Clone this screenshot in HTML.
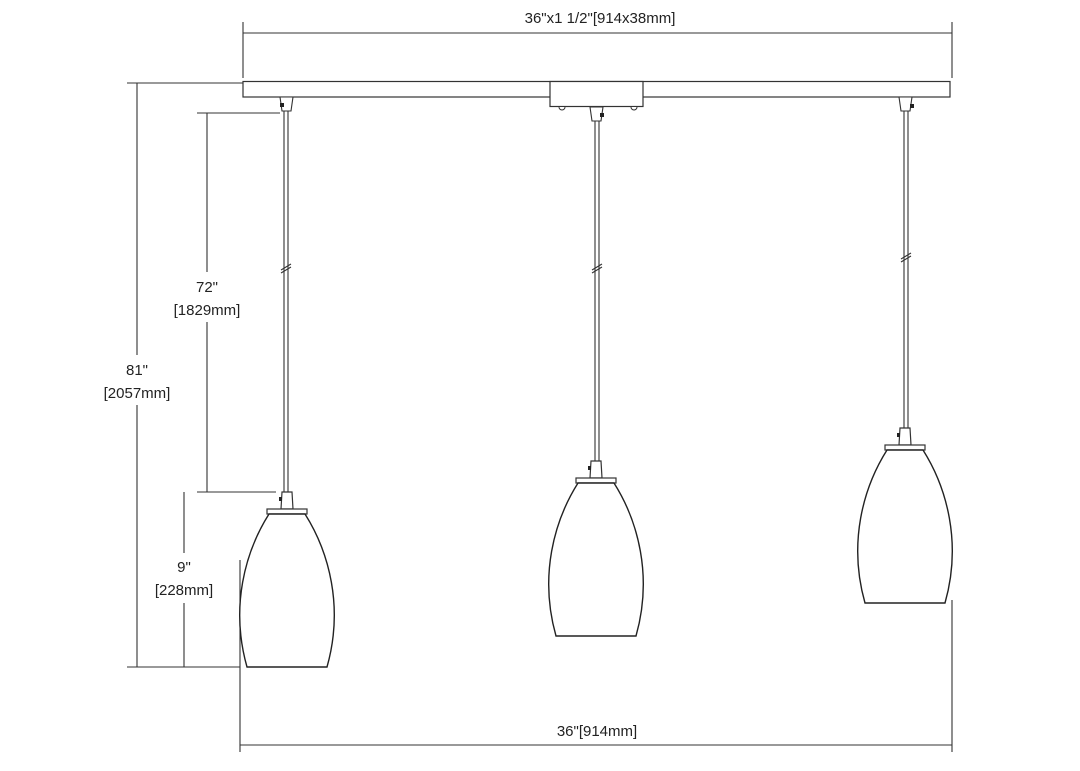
<!DOCTYPE html>
<html><head><meta charset="utf-8"><style>
html,body{margin:0;padding:0;background:#fff;}
svg{display:block;font-family:"Liberation Sans",sans-serif;}
text{font-size:15px;fill:#222;}
</style></head><body>
<svg width="1080" height="771" viewBox="0 0 1080 771" xmlns="http://www.w3.org/2000/svg">
<defs>
<g id="p">
  <path d="M-5,0 L5,0 L6,17 L-6,17 Z" fill="#fff" stroke="#333" stroke-width="1.2"/>
  <rect x="-8" y="5" width="3" height="4" fill="#222"/>
  <rect x="-20" y="17" width="40" height="5" fill="#fff" stroke="#333" stroke-width="1.2"/>
  <path d="M-18,22 C-42,60 -57,115 -40,175 L40,175 C57,115 42,60 18,22 Z" fill="#fff" stroke="#222" stroke-width="1.4"/>
</g>
</defs>
<g stroke="#333" stroke-width="1.1" fill="none">
  <line x1="243" y1="33" x2="952" y2="33"/>
  <line x1="243" y1="22" x2="243" y2="78"/>
  <line x1="952" y1="22" x2="952" y2="78"/>
  <line x1="240" y1="745" x2="952" y2="745"/>
  <line x1="240" y1="560" x2="240" y2="752"/>
  <line x1="952" y1="600" x2="952" y2="752"/>
  <line x1="137" y1="83" x2="137" y2="667"/>
  <line x1="127" y1="83" x2="243" y2="83"/>
  <line x1="127" y1="667" x2="240" y2="667"/>
  <line x1="207" y1="113" x2="207" y2="492"/>
  <line x1="197" y1="113" x2="280" y2="113"/>
  <line x1="197" y1="492" x2="276" y2="492"/>
  <line x1="184" y1="492" x2="184" y2="667"/>
  <line x1="174" y1="667" x2="240" y2="667"/>
  <line x1="284" y1="97" x2="284" y2="492"/><line x1="288" y1="97" x2="288" y2="492"/>
  <line x1="595" y1="107" x2="595" y2="461"/><line x1="599" y1="107" x2="599" y2="461"/>
  <line x1="904" y1="97" x2="904" y2="428"/><line x1="908" y1="97" x2="908" y2="428"/>
  <line x1="281" y1="270" x2="291" y2="264"/><line x1="281" y1="273" x2="291" y2="267"/>
  <line x1="592" y1="270" x2="602" y2="264"/><line x1="592" y1="273" x2="602" y2="267"/>
  <line x1="901" y1="259" x2="911" y2="253"/><line x1="901" y1="262" x2="911" y2="256"/>
</g>
<rect x="243" y="81.5" width="707" height="15.5" fill="#fff" stroke="#333" stroke-width="1.2"/>
<rect x="550" y="81.5" width="93" height="25" fill="#fff" stroke="#333" stroke-width="1.2"/>
<path d="M559,107 a3,3 0 0 0 6,0" fill="#fff" stroke="#333"/>
<path d="M631,107 a3,3 0 0 0 6,0" fill="#fff" stroke="#333"/>
<g stroke="#333" stroke-width="1.1" fill="#fff">
  <path d="M280,97 L293,97 L291,111 L282,111 Z"/>
  <path d="M590,107 L603,107 L601,121 L592,121 Z"/>
  <path d="M899,97 L912,97 L910,111 L901,111 Z"/>
</g>
<rect x="280" y="103" width="4" height="4" fill="#222"/>
<rect x="600" y="113" width="4" height="4" fill="#222"/>
<rect x="910" y="104" width="4" height="4" fill="#222"/>
<use href="#p" transform="translate(287,492)"/>
<use href="#p" transform="translate(596,461)"/>
<use href="#p" transform="translate(905,428)"/>
<g text-anchor="middle">
<rect x="495" y="6" width="210" height="22" fill="#fff"/>
<text x="600" y="23">36"x1 1/2"[914x38mm]</text>
<rect x="545" y="720" width="110" height="20" fill="#fff"/>
<text x="597" y="736">36"[914mm]</text>
<rect x="90" y="355" width="94" height="50" fill="#fff"/>
<text x="137" y="375">81"</text><text x="137" y="398">[2057mm]</text>
<rect x="160" y="272" width="94" height="50" fill="#fff"/>
<text x="207" y="292">72"</text><text x="207" y="315">[1829mm]</text>
<rect x="144" y="553" width="82" height="50" fill="#fff"/>
<text x="184" y="572">9"</text><text x="184" y="595">[228mm]</text>
</g>
</svg>
</body></html>
